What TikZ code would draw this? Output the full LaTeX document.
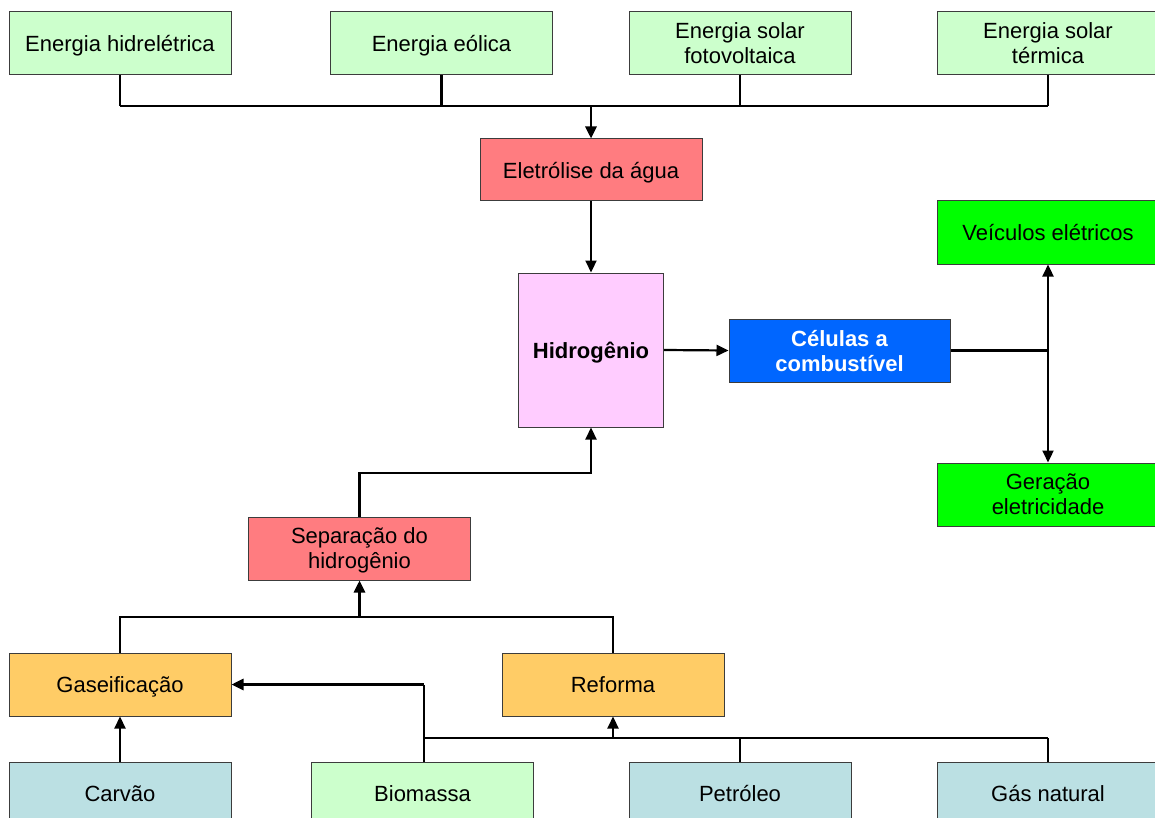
\documentclass[tikz,border=0pt]{standalone}
\usepackage{fontspec}
\setmainfont{Liberation Sans}
\usetikzlibrary{arrows.meta}
\definecolor{lgreen}{RGB}{204,255,204}
\definecolor{lred}{RGB}{255,124,128}
\definecolor{lpink}{RGB}{255,204,255}
\definecolor{cblue}{RGB}{0,102,255}
\definecolor{cgreen}{RGB}{0,255,0}
\definecolor{corange}{RGB}{255,204,102}
\definecolor{lblue}{RGB}{187,224,227}
\definecolor{bord}{RGB}{60,60,60}
\tikzset{
  box/.style={draw=bord, line width=1pt, minimum width=222pt, minimum height=63pt, inner sep=0pt, align=center, text depth=0pt, font=\fontsize{22}{25}\selectfont},
  conn/.style={draw=black, line width=2.2pt},
  thick conn/.style={draw=black, line width=2.8pt},
  arr/.style={conn, -{Triangle[length=12pt,width=11pt]}},
  darr/.style={conn, {Triangle[length=12pt,width=11pt]}-{Triangle[length=12pt,width=11pt]}}
}
\begin{document}
\begin{tikzpicture}[x=1pt,y=-1pt]
\useasboundingbox (0,0) rectangle (1155,818);
\clip (0,0) rectangle (1155,818);
\fill[white] (0,0) rectangle (1155,818);
% top sources
\node[box, fill=lgreen] (hydro) at (120,43.5) {Energia hidrelétrica};
\node[box, fill=lgreen] (eol) at (441.5,43.5) {Energia eólica};
\node[box, fill=lgreen] (fv) at (740,43.5) {Energia solar\\fotovoltaica};
\node[box, fill=lgreen] (term) at (1048,43.5) {Energia solar\\térmica};
% middle
\node[box, fill=lred, minimum height=62pt] (elet) at (591,170) {Eletrólise da água};
\node[box, fill=lpink, minimum width=145pt, minimum height=154pt, font=\fontsize{22}{25}\selectfont\bfseries] (hidro) at (591,350) {Hidrogênio};
\node[box, fill=cblue, text=white, minimum width=221pt, font=\fontsize{22}{25}\selectfont\bfseries] (cel) at (839.5,350.5) {Células a\\combustível};
\node[box, fill=cgreen] (veic) at (1048,232.5) {Veículos elétricos};
\node[box, fill=cgreen] (ger) at (1048,494.5) {Geração\\eletricidade};
\node[box, fill=lred] (sep) at (359.5,548.5) {Separação do\\hidrogênio};
\node[box, fill=corange] (gas) at (120,684.5) {Gaseificação};
\node[box, fill=corange] (ref) at (613,684.5) {Reforma};
% bottom sources
\node[box, fill=lblue] (carv) at (120,793.5) {Carvão};
\node[box, fill=lgreen] (bio) at (422.5,793.5) {Biomassa};
\node[box, fill=lblue] (pet) at (740,793.5) {Petróleo};
\node[box, fill=lblue] (gn) at (1048,793.5) {Gás natural};
% helper coordinates
\coordinate (bt) at (0,106);
\coordinate (sy) at (0,473);
\coordinate (gy) at (0,617);
\coordinate (bx) at (424,0);
\coordinate (ly) at (0,738);
% top bus
\draw[conn] (hydro.south) -- (hydro.south |- bt);
\draw[thick conn] (hydro.south |- bt) -- (term.south |- bt);
\draw[conn] (term.south |- bt) -- (term.south);
\draw[conn] (eol.south) -- (eol.south |- bt);
\draw[conn] (fv.south) -- (fv.south |- bt);
\draw[arr, line width=2.8pt] (elet.north |- bt) -- (elet.north);
\draw[arr] (elet.south) -- (hidro.north);
\draw[arr] (hidro.east) -- (cel.west);
\draw[thick conn] (cel.east) -- (veic.south |- cel.east);
\draw[darr] (veic.south) -- (ger.north);
% separation
\draw[arr] (sep.north) -- (sep.north |- sy) -| (hidro.south);
\draw[conn] (gas.north) -- (gas.north |- gy) -| (ref.north);
\draw[arr, line width=2.8pt] (sep.south |- gy) -- (sep.south);
% bottom
\draw[arr] (carv.north) -- (gas.south);
\draw[conn] (bx |- bio.north) -- (bx |- gas.east);
\draw[arr, line width=2.8pt] (bx |- gas.east) -- (gas.east);
\draw[thick conn] (bx |- ly) -- (gn.north |- ly);
\draw[conn] (gn.north |- ly) -- (gn.north);
\draw[conn] (pet.north) -- (pet.north |- ly);
\draw[arr] (ref.south |- ly) -- (ref.south);
\end{tikzpicture}
\end{document}
